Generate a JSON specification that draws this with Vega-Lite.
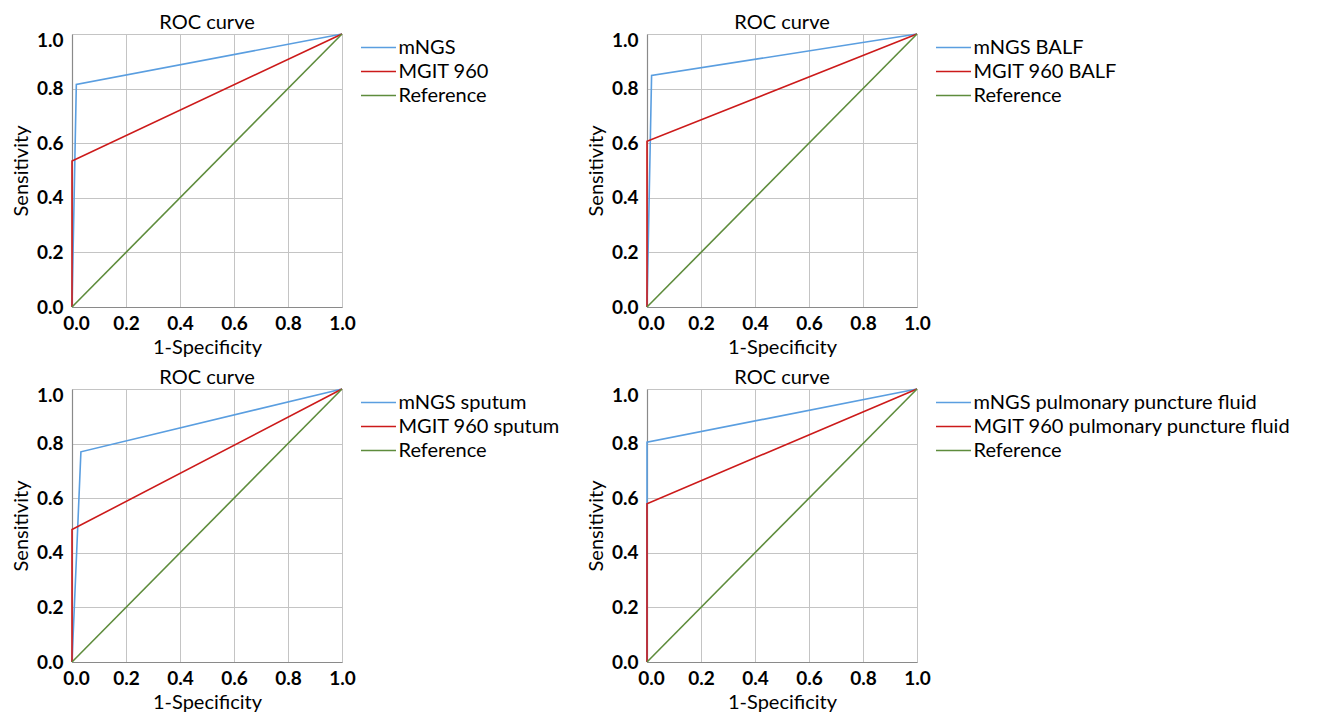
{
  "$schema": "https://vega.github.io/schema/vega-lite/v6.json",
  "background": "white",
  "padding": {"left": 11, "top": 12, "right": 5, "bottom": 5},
  "data": {
    "values": [
      {"panel": 1, "series": "mNGS", "step": 0, "fpr": 0, "tpr": 0},
      {"panel": 1, "series": "mNGS", "step": 1, "fpr": 0.016, "tpr": 0.815},
      {"panel": 1, "series": "mNGS", "step": 2, "fpr": 1, "tpr": 1},
      {"panel": 1, "series": "MGIT 960", "step": 0, "fpr": 0, "tpr": 0},
      {"panel": 1, "series": "MGIT 960", "step": 1, "fpr": 0, "tpr": 0.535},
      {"panel": 1, "series": "MGIT 960", "step": 2, "fpr": 1, "tpr": 1},
      {"panel": 1, "series": "Reference", "step": 0, "fpr": 0, "tpr": 0},
      {"panel": 1, "series": "Reference", "step": 1, "fpr": 1, "tpr": 1},
      {"panel": 2, "series": "mNGS BALF", "step": 0, "fpr": 0, "tpr": 0},
      {"panel": 2, "series": "mNGS BALF", "step": 1, "fpr": 0.017, "tpr": 0.848},
      {"panel": 2, "series": "mNGS BALF", "step": 2, "fpr": 1, "tpr": 1},
      {"panel": 2, "series": "MGIT 960 BALF", "step": 0, "fpr": 0, "tpr": 0},
      {"panel": 2, "series": "MGIT 960 BALF", "step": 1, "fpr": 0, "tpr": 0.607},
      {"panel": 2, "series": "MGIT 960 BALF", "step": 2, "fpr": 1, "tpr": 1},
      {"panel": 2, "series": "Reference", "step": 0, "fpr": 0, "tpr": 0},
      {"panel": 2, "series": "Reference", "step": 1, "fpr": 1, "tpr": 1},
      {"panel": 3, "series": "mNGS sputum", "step": 0, "fpr": 0, "tpr": 0},
      {"panel": 3, "series": "mNGS sputum", "step": 1, "fpr": 0.033, "tpr": 0.77},
      {"panel": 3, "series": "mNGS sputum", "step": 2, "fpr": 1, "tpr": 1},
      {"panel": 3, "series": "MGIT 960 sputum", "step": 0, "fpr": 0, "tpr": 0},
      {"panel": 3, "series": "MGIT 960 sputum", "step": 1, "fpr": 0, "tpr": 0.485},
      {"panel": 3, "series": "MGIT 960 sputum", "step": 2, "fpr": 1, "tpr": 1},
      {"panel": 3, "series": "Reference", "step": 0, "fpr": 0, "tpr": 0},
      {"panel": 3, "series": "Reference", "step": 1, "fpr": 1, "tpr": 1},
      {"panel": 4, "series": "mNGS pulmonary puncture fluid", "step": 0, "fpr": 0, "tpr": 0},
      {"panel": 4, "series": "mNGS pulmonary puncture fluid", "step": 1, "fpr": 0, "tpr": 0.805},
      {"panel": 4, "series": "mNGS pulmonary puncture fluid", "step": 2, "fpr": 1, "tpr": 1},
      {"panel": 4, "series": "MGIT 960 pulmonary puncture fluid", "step": 0, "fpr": 0, "tpr": 0},
      {"panel": 4, "series": "MGIT 960 pulmonary puncture fluid", "step": 1, "fpr": 0, "tpr": 0.58},
      {"panel": 4, "series": "MGIT 960 pulmonary puncture fluid", "step": 2, "fpr": 1, "tpr": 1},
      {"panel": 4, "series": "Reference", "step": 0, "fpr": 0, "tpr": 0},
      {"panel": 4, "series": "Reference", "step": 1, "fpr": 1, "tpr": 1}
    ]
  },
  "columns": 2,
  "spacing": {"row": 10, "column": 22},
  "concat": [
    {
      "title": "ROC curve",
      "width": 270, "height": 273,
      "transform": [{"filter": "datum.panel == 1"}],
      "mark": {"type": "line", "strokeWidth": 1.6},
      "encoding": {
        "x": {"field": "fpr", "type": "quantitative", "title": "1-Specificity", "scale": {"domain": [0, 1], "nice": false}},
        "y": {"field": "tpr", "type": "quantitative", "title": "Sensitivity", "scale": {"domain": [0, 1], "nice": false}},
        "color": {"field": "series", "type": "nominal", "scale": {"domain": ["mNGS", "MGIT 960", "Reference"], "range": ["#5a9ee0", "#cc1a1a", "#5e8c3c"]}, "legend": {"title": null}},
        "order": {"field": "step"}
      }
    },
    {
      "title": "ROC curve",
      "width": 270, "height": 273,
      "transform": [{"filter": "datum.panel == 2"}],
      "mark": {"type": "line", "strokeWidth": 1.6},
      "encoding": {
        "x": {"field": "fpr", "type": "quantitative", "title": "1-Specificity", "scale": {"domain": [0, 1], "nice": false}},
        "y": {"field": "tpr", "type": "quantitative", "title": "Sensitivity", "scale": {"domain": [0, 1], "nice": false}},
        "color": {"field": "series", "type": "nominal", "scale": {"domain": ["mNGS BALF", "MGIT 960 BALF", "Reference"], "range": ["#5a9ee0", "#cc1a1a", "#5e8c3c"]}, "legend": {"title": null}},
        "order": {"field": "step"}
      }
    },
    {
      "title": "ROC curve",
      "width": 270, "height": 273,
      "transform": [{"filter": "datum.panel == 3"}],
      "mark": {"type": "line", "strokeWidth": 1.6},
      "encoding": {
        "x": {"field": "fpr", "type": "quantitative", "title": "1-Specificity", "scale": {"domain": [0, 1], "nice": false}},
        "y": {"field": "tpr", "type": "quantitative", "title": "Sensitivity", "scale": {"domain": [0, 1], "nice": false}},
        "color": {"field": "series", "type": "nominal", "scale": {"domain": ["mNGS sputum", "MGIT 960 sputum", "Reference"], "range": ["#5a9ee0", "#cc1a1a", "#5e8c3c"]}, "legend": {"title": null}},
        "order": {"field": "step"}
      }
    },
    {
      "title": "ROC curve",
      "width": 270, "height": 273,
      "transform": [{"filter": "datum.panel == 4"}],
      "mark": {"type": "line", "strokeWidth": 1.6},
      "encoding": {
        "x": {"field": "fpr", "type": "quantitative", "title": "1-Specificity", "scale": {"domain": [0, 1], "nice": false}},
        "y": {"field": "tpr", "type": "quantitative", "title": "Sensitivity", "scale": {"domain": [0, 1], "nice": false}},
        "color": {"field": "series", "type": "nominal", "scale": {"domain": ["mNGS pulmonary puncture fluid", "MGIT 960 pulmonary puncture fluid", "Reference"], "range": ["#5a9ee0", "#cc1a1a", "#5e8c3c"]}, "legend": {"title": null}},
        "order": {"field": "step"}
      }
    }
  ],
  "resolve": {"scale": {"color": "independent"}, "legend": {"color": "independent"}},
  "config": {
    "font": "Lato",
    "view": {"stroke": null},
    "axis": {
      "labelFont": "Lato", "labelFontSize": 19, "labelFontWeight": "bold", "labelColor": "#000000",
      "titleFont": "Lato", "titleFontSize": 20, "titleFontWeight": "normal", "titleColor": "#000000",
      "gridColor": "#c4c4c4", "gridWidth": 1, "domainColor": "#8a8a8a", "domainWidth": 1.2,
      "ticks": false, "values": [0, 0.2, 0.4, 0.6, 0.8, 1], "format": ".1f", "labelFlush": false
    },
    "axisX": {"labelPadding": 7, "titlePadding": 4, "labelOffset": {"condition": {"test": "datum.value == 0", "value": 4}, "value": 0}},
    "axisY": {"labelPadding": 9, "titlePadding": 5, "labelOffset": {"condition": {"test": "datum.value == 1", "value": 6}, "value": 0}},
    "title": {"font": "Lato", "fontSize": 20, "fontWeight": "normal", "color": "#000000", "offset": -2, "anchor": "middle"},
    "legend": {
      "orient": "right", "offset": 19, "labelFont": "Lato", "labelFontSize": 20, "labelColor": "#000000", "labelLimit": 0,
      "symbolType": "M-2,0H2", "symbolSize": 306, "symbolStrokeWidth": 1.6, "labelOffset": 10, "rowPadding": 4, "padding": 3.5
    }
  }
}
